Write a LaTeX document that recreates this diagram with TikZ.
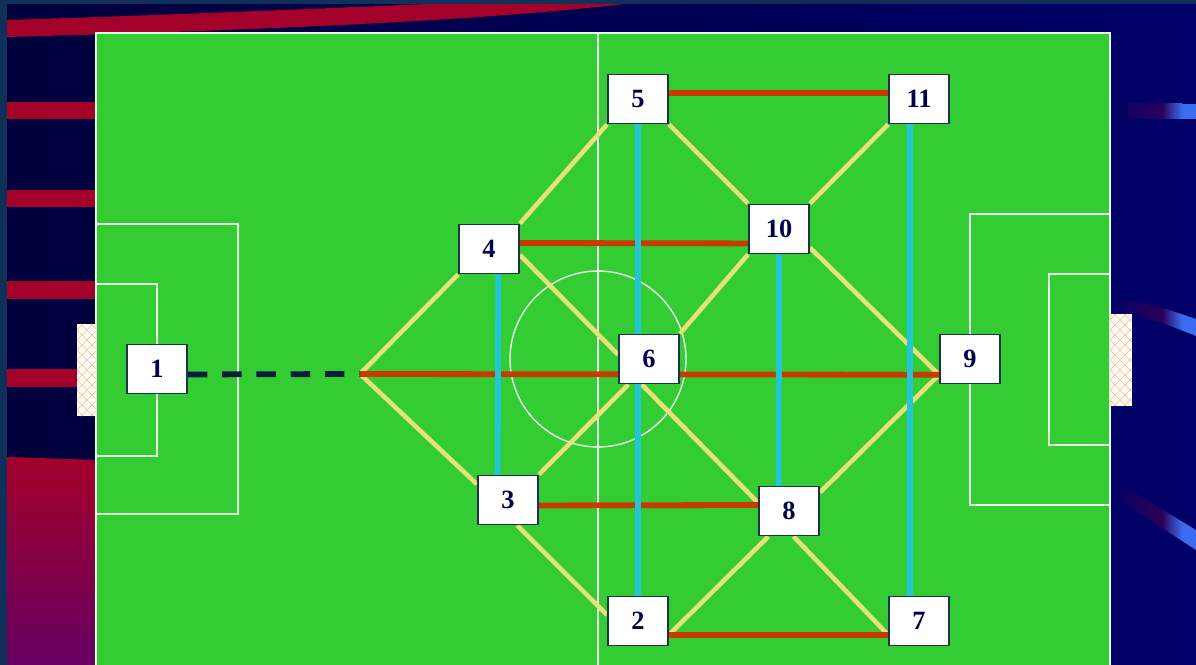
\documentclass[tikz,border=0pt]{standalone}
\usepackage{fontspec}
\setmainfont{Liberation Serif}
\usepackage{xcolor}
\usepackage{tikz}

\definecolor{frameblue}{HTML}{10305A}
\definecolor{nightL}{HTML}{00003C}
\definecolor{nightR}{HTML}{000068}
\definecolor{stripered}{HTML}{A3002A}
\definecolor{stripepurple}{HTML}{660062}
\definecolor{streakpurple}{HTML}{2C0058}
\definecolor{streakblue}{HTML}{3A6CF0}
\definecolor{pitch}{HTML}{33CC33}
\definecolor{chalk}{HTML}{E6FFE6}
\definecolor{passred}{HTML}{C83A00}
\definecolor{passblue}{HTML}{22C6D6}
\definecolor{passyellow}{HTML}{E8E078}
\definecolor{dashnavy}{HTML}{0C1C3C}
\definecolor{boxedge}{HTML}{1C3448}
\definecolor{numblue}{HTML}{000050}

\pgfdeclarelayer{bg}
\pgfdeclarelayer{links}
\pgfsetlayers{bg,links,main}

% one faint streak, filled inside the current clip
\newcommand{\streakfill}[2]{%
  \shade[left color=nightR, right color=streakpurple] (1110,#1) rectangle (1162,#2);
  \shade[left color=streakpurple, right color=streakblue] (1162,#1) rectangle (1182,#2);
  \fill[streakblue] (1182,#1) rectangle (1196,#2);}

\begin{document}
\begin{tikzpicture}[
  x=0.02cm, y=-0.02cm,
  player/.style={draw=boxedge, line width=1.1pt, fill=white,
                 minimum width=1.2cm, minimum height=0.98cm, inner sep=0pt,
                 font=\fontsize{15}{15}\selectfont\bfseries, text=numblue},
  marking/.style={draw=chalk, line width=0.8pt},
  redpass/.style={draw=passred, line width=3.3pt},
  bluepass/.style={draw=passblue, line width=3.3pt},
  yellowpass/.style={draw=passyellow, line width=2.6pt},
  dashpass/.style={draw=dashnavy, line width=3.3pt, dash pattern=on 11pt off 8.5pt},
]
  \useasboundingbox (0,0) rectangle (1196,665);
  \clip (0,0) rectangle (1196,665);

  \begin{pgfonlayer}{bg}
  % Slide background
  \shade[left color=nightL, right color=nightR] (0,0) rectangle (1196,665);

  % Red stripes on the left
  \fill[stripered] (7,20) .. controls (200,14) and (380,6) .. (520,0)
    -- (660,0) .. controls (560,12) and (420,26) .. (7,37) -- cycle;
  \fill[stripered] (7,102) rectangle (100,119);
  \fill[stripered] (7,190) rectangle (100,207);
  \fill[stripered] (7,281) rectangle (100,299);
  \fill[stripered] (7,369) rectangle (100,387);
  \shade[top color=stripered, bottom color=stripepurple]
    (7,457) -- (100,460) -- (100,665) -- (7,665) -- cycle;

  % Blue streaks on the right
  \begin{scope}
    \clip (1110,104) rectangle (1196,119);
    \streakfill{104}{119}
  \end{scope}
  \begin{scope}
    \clip (1110,298) .. controls (1150,302) and (1175,312) .. (1196,319)
      -- (1196,336) .. controls (1175,328) and (1150,316) .. (1110,312) -- cycle;
    \streakfill{295}{340}
  \end{scope}
  \begin{scope}
    \clip (1110,478) -- (1196,530) -- (1196,550) -- (1110,494) -- cycle;
    \streakfill{475}{555}
  \end{scope}

  % Slide frame
  \fill[frameblue] (0,0) rectangle (1196,4);
  \fill[frameblue] (0,0) rectangle (7,665);

  % Pitch
  \fill[pitch] (96,33) rectangle (1110,680);
  \draw[marking] (96,680) -- (96,33) -- (1110,33) -- (1110,680);
  \draw[marking] (598,33) -- (598,680);
  \draw[marking] (598,359) circle[radius=1.76cm];
  \draw[marking] (96,224) rectangle (238,514);
  \draw[marking] (96,284) rectangle (157,456);
  \draw[marking] (970,214) rectangle (1110,505);
  \draw[marking] (1049,274) rectangle (1110,445);

  % Goal nets
  \fill[white] (77,324) rectangle (96,416);
  \fill[white] (1110,314) rectangle (1132,406);
  \begin{scope}
    \clip (77,324) rectangle (96,416) (1110,314) rectangle (1132,406);
    \foreach \k in {-140,-130,...,140} {
      \draw[orange!55, line width=0.35pt] (77+\k,310) -- ++(130,130);
      \draw[orange!55, line width=0.35pt] (77+\k,440) -- ++(130,-130);
      \draw[orange!55, line width=0.35pt] (1110+\k,300) -- ++(130,130);
      \draw[orange!55, line width=0.35pt] (1110+\k,430) -- ++(130,-130);
    }
  \end{scope}
  \end{pgfonlayer}

  % Players
  \node[player] (n1)  at (157,369) {1};
  \node[player] (n2)  at (638,621) {2};
  \node[player] (n3)  at (508,500) {3};
  \node[player] (n4)  at (489,249) {4};
  \node[player] (n5)  at (638,99)  {5};
  \node[player] (n6)  at (649,359) {6};
  \node[player] (n7)  at (919,621) {7};
  \node[player] (n8)  at (789,511) {8};
  \node[player] (n9)  at (970,359) {9};
  \node[player] (n10) at (779,229) {10};
  \node[player] (n11) at (919,99)  {11};
  \coordinate (apex) at (360,374);

  \begin{pgfonlayer}{links}
  % Diagonal passes
  \draw[yellowpass] (apex) -- (n4.south west);
  \draw[yellowpass] (apex) -- (n3.153);
  \draw[yellowpass] (n4.north east) -- (n5.south west);
  \draw[yellowpass] (n4.-11) -- (n6.172);
  \draw[yellowpass] (n5.south east) -- (n10.north west);
  \draw[yellowpass] (n11.south west) -- (n10.north east);
  \draw[yellowpass] (n10.south west) -- (n6.north east);
  \draw[yellowpass] (n10.-31) -- (n9.207);
  \draw[yellowpass] (n6.231) -- (n3.north east);
  \draw[yellowpass] (n6.254) -- (n8.165);
  \draw[yellowpass] (n9.207) -- (n8.31);
  \draw[yellowpass] (n3.-70) -- (n2.169);
  \draw[yellowpass] (n8.231) -- (n2.-24);
  \draw[yellowpass] (n8.-80) -- (n7.204);

  % Square passes
  \draw[redpass] (n5.11) -- (n11.169);
  \draw[redpass] (n4.11) -- (n10.205);
  \draw[redpass] (apex) -- (n9.207);
  \draw[redpass] (n3.-10) -- (n8.169);
  \draw[redpass] (n2.-24) -- (n7.204);

  % Long passes
  \draw[bluepass] (n4.-70) -- (n3.112);
  \draw[bluepass] (n5.south) -- (n2.north);
  \draw[bluepass] (n10.south) -- (n8.112);
  \draw[bluepass] (n11.-110) -- (n7.110);

  % Goal kick
  \draw[dashpass] (n1.-10) -- (apex);
  \end{pgfonlayer}

\end{tikzpicture}
\end{document}
